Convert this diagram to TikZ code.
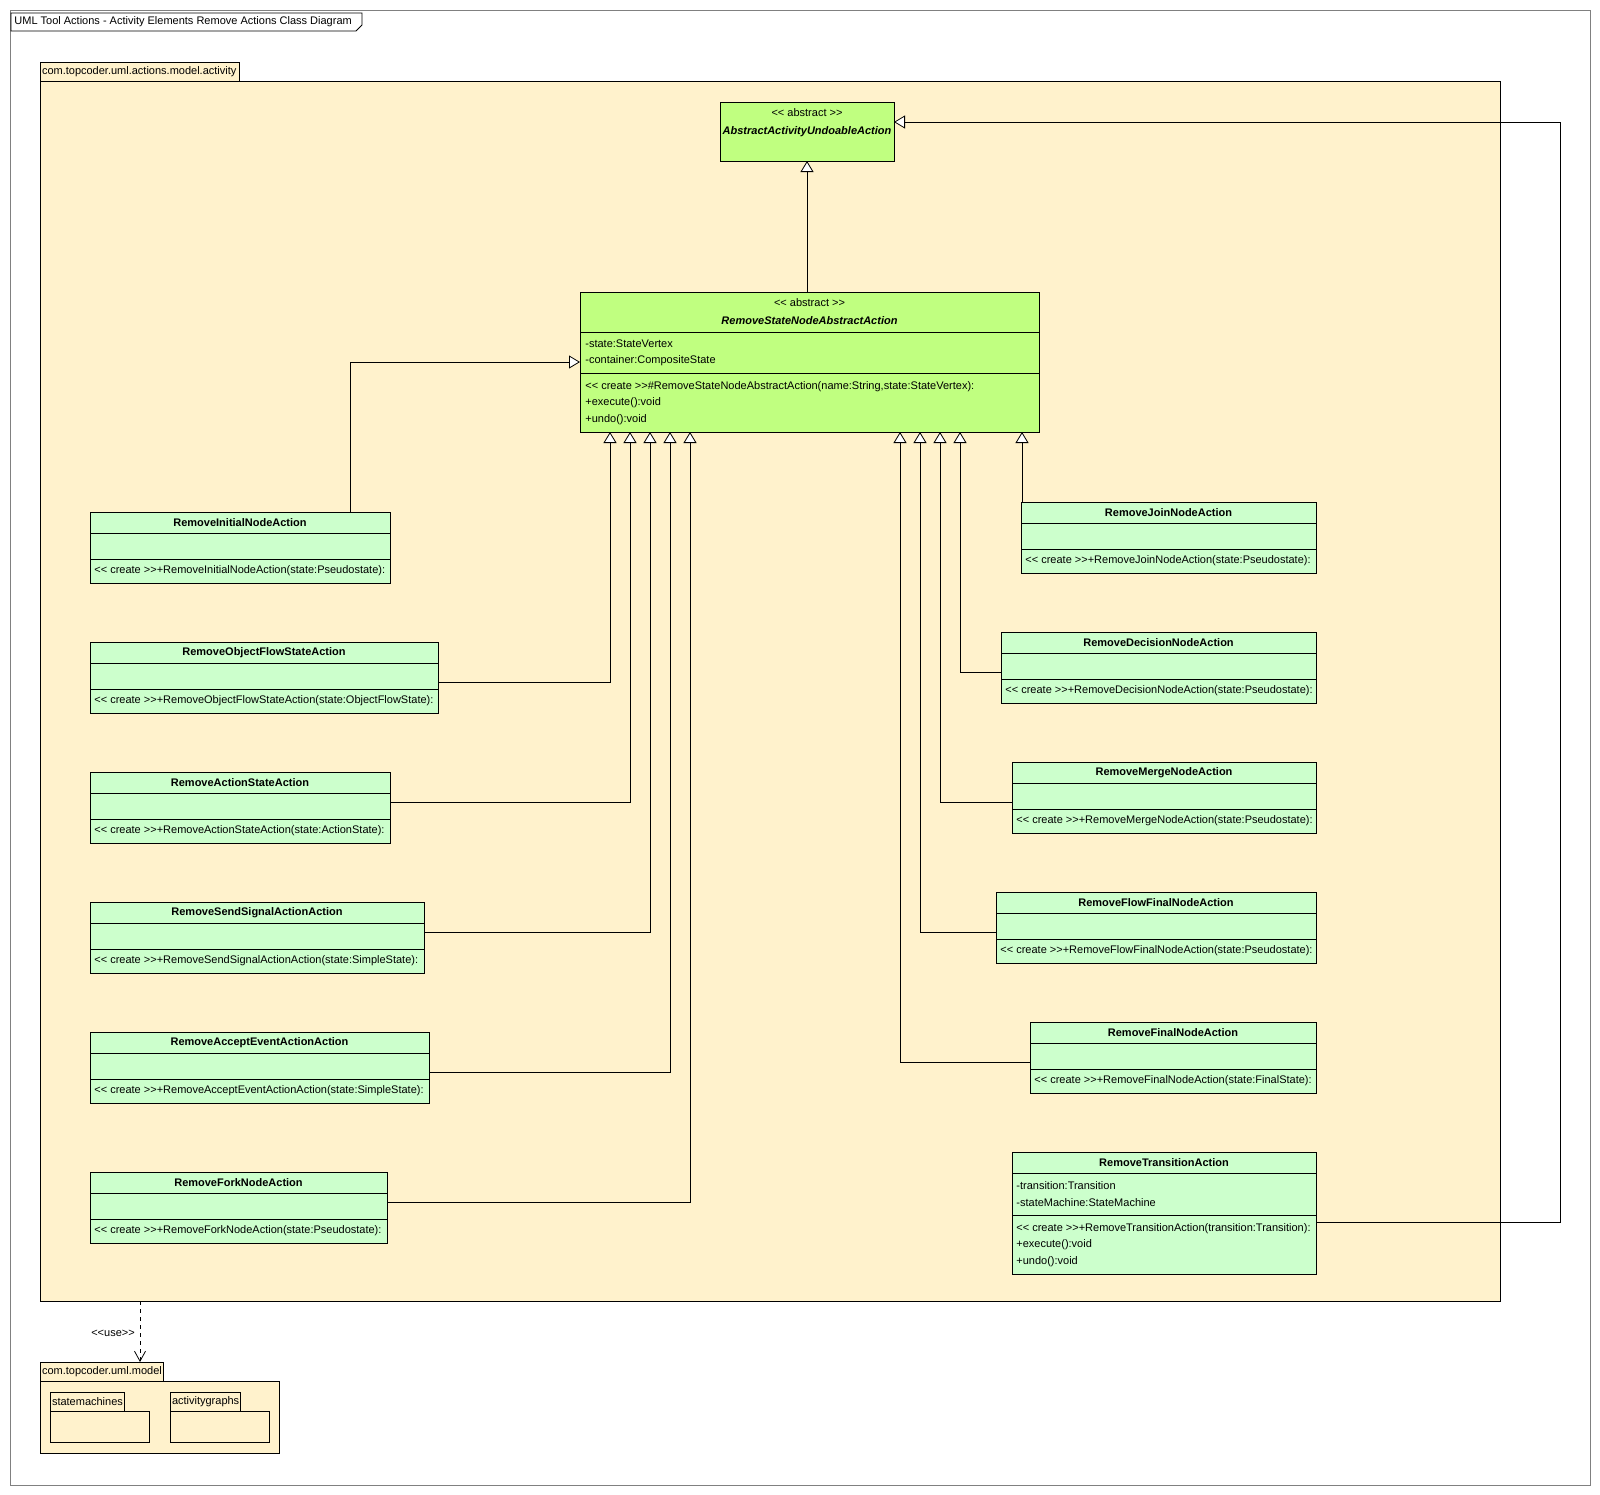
\documentclass[tikz,border=0pt]{standalone}
\usepackage{fontspec}
\setmainfont{Liberation Sans}
\usetikzlibrary{arrows.meta}

\definecolor{pkgfill}{RGB}{255,242,204}
\definecolor{absfill}{RGB}{192,255,128}
\definecolor{clsfill}{RGB}{204,255,204}
\definecolor{framegray}{RGB}{128,128,128}

\newcommand{\stereoL}{<{}<}
\newcommand{\stereoR}{>{}>}

\tikzset{
  box/.style={draw, anchor=north west, inner sep=0pt, outer sep=0pt},
  cls/.style={box, fill=clsfill},
  abscls/.style={box, fill=absfill},
  pkgbody/.style={box, fill=pkgfill},
  pkgtab/.style={draw, fill=pkgfill, anchor=north west, inner xsep=2pt, inner ysep=0pt, outer sep=0pt, minimum height=19},
  cname/.style={inner sep=0pt, font=\fontsize{11}{13}\selectfont\bfseries},
  aname/.style={inner sep=0pt, font=\fontsize{11}{13}\selectfont\bfseries\itshape},
  member/.style={anchor=west, inner sep=0pt},
  inh/.style={-{Triangle[length=11pt,width=13pt,fill=white]}},
  dep/.style={-{Straight Barb[length=10pt,width=11pt]}, dash pattern=on 4pt off 4pt},
}

% id, x1, y1, x2, name, constructor
\newcommand{\smallclass}[6]{%
  \node[cls, minimum width=#4-#2, minimum height=71] (#1) at (#2,#3) {};
  \draw ([yshift=-21pt]#1.north west) -- ([yshift=-21pt]#1.north east);
  \draw ([yshift=-47pt]#1.north west) -- ([yshift=-47pt]#1.north east);
  \node[cname] (#1-name) at ([yshift=-11pt]#1.north) {#5};
  \node[member] (#1-op) at ([shift={(4pt,-59pt)}]#1.north west) {\stereoL{} create \stereoR+#6};
}

\begin{document}
\begin{tikzpicture}[x=1pt, y=-1pt, line width=0.8pt, font=\fontsize{11}{13}\selectfont]
\useasboundingbox (0,0) rectangle (1600,1494);
\draw[framegray, line width=1pt] (10,10) rectangle (1590,1485);
\draw[fill=white] (11,13) -- (362,13) -- (362,25) -- (356,31) -- (11,31) -- cycle;
\node[member] (title) at (14,22) {UML Tool Actions - Activity Elements Remove Actions Class Diagram};

\node[pkgbody, minimum width=1460, minimum height=1220] (activity) at (40,81) {};
\node[pkgtab] (activity-tab) at (40,62) {\makebox[195pt][l]{com.topcoder.uml.actions.model.activity}};

\node[abscls, minimum width=174, minimum height=59] (abs) at (720,102) {};
\node (abs-st) at (807,113) {\stereoL{} abstract \stereoR};
\node[aname] (abs-name) at (807,132) {AbstractActivityUndoableAction};

\node[abscls, minimum width=459, minimum height=140] (rsn) at (580,292) {};
\draw (580,332) -- (1039,332);
\draw (580,373) -- (1039,373);
\node (rsn-st) at (809.5,303) {\stereoL{} abstract \stereoR};
\node[aname] (rsn-name) at (809.5,321) {RemoveStateNodeAbstractAction};
\node[member] (rsn-a1) at (585,344) {-state:StateVertex};
\node[member] (rsn-a2) at (585,361) {-container:CompositeState};
\node[member] (rsn-o1) at (585,387) {\stereoL{} create \stereoR\#RemoveStateNodeAbstractAction(name:String,state:StateVertex):};
\node[member] (rsn-o2) at (585,403) {+execute():void};
\node[member] (rsn-o3) at (585,420) {+undo():void};

\smallclass{initial}{90}{512}{390}{RemoveInitialNodeAction}{RemoveInitialNodeAction(state:Pseudostate):}
\smallclass{objflow}{90}{642}{438}{RemoveObjectFlowStateAction}{RemoveObjectFlowStateAction(state:ObjectFlowState):}
\smallclass{actstate}{90}{772}{390}{RemoveActionStateAction}{RemoveActionStateAction(state:ActionState):}
\smallclass{sendsig}{90}{902}{424}{RemoveSendSignalActionAction}{RemoveSendSignalActionAction(state:SimpleState):}
\smallclass{accept}{90}{1032}{429}{RemoveAcceptEventActionAction}{RemoveAcceptEventActionAction(state:SimpleState):}
\smallclass{fork}{90}{1172}{387}{RemoveForkNodeAction}{RemoveForkNodeAction(state:Pseudostate):}
\smallclass{join}{1021}{502}{1316}{RemoveJoinNodeAction}{RemoveJoinNodeAction(state:Pseudostate):}
\smallclass{decision}{1001}{632}{1316}{RemoveDecisionNodeAction}{RemoveDecisionNodeAction(state:Pseudostate):}
\smallclass{merge}{1012}{762}{1316}{RemoveMergeNodeAction}{RemoveMergeNodeAction(state:Pseudostate):}
\smallclass{flowfinal}{996}{892}{1316}{RemoveFlowFinalNodeAction}{RemoveFlowFinalNodeAction(state:Pseudostate):}
\smallclass{final}{1030}{1022}{1316}{RemoveFinalNodeAction}{RemoveFinalNodeAction(state:FinalState):}

\node[cls, minimum width=304, minimum height=122] (trans) at (1012,1152) {};
\draw (1012,1173) -- (1316,1173);
\draw (1012,1215) -- (1316,1215);
\node[cname] (trans-name) at (1164,1163) {RemoveTransitionAction};
\node[member] (trans-a1) at (1016,1186) {-transition:Transition};
\node[member] (trans-a2) at (1016,1203) {-stateMachine:StateMachine};
\node[member] (trans-o1) at (1016,1229) {\stereoL{} create \stereoR+RemoveTransitionAction(transition:Transition):};
\node[member] (trans-o2) at (1016,1245) {+execute():void};
\node[member] (trans-o3) at (1016,1262) {+undo():void};

\draw[inh] (rsn.north -| abs.south) -- (abs.south);
\draw[inh] ([xshift=110pt]initial.north) |- (rsn.west);
\draw[inh] (objflow.east |- 0,682) -| (rsn.south -| 610,0);
\draw[inh] (actstate.east |- 0,802) -| (rsn.south -| 630,0);
\draw[inh] (sendsig.east |- 0,932) -| (rsn.south -| 650,0);
\draw[inh] (accept.east |- 0,1072) -| (rsn.south -| 670,0);
\draw[inh] (fork.east |- 0,1202) -| (rsn.south -| 690,0);
\draw[inh] (join.north -| 1022,0) -- (rsn.south -| 1022,0);
\draw[inh] (decision.west |- 0,672) -| (rsn.south -| 960,0);
\draw[inh] (merge.west |- 0,802) -| (rsn.south -| 940,0);
\draw[inh] (flowfinal.west |- 0,932) -| (rsn.south -| 920,0);
\draw[inh] (final.west |- 0,1062) -| (rsn.south -| 900,0);
\draw[inh] (trans.east |- 0,1222) -- (1560,1222) |- (abs.east |- 0,122);

\node[pkgbody, minimum width=239, minimum height=72] (model) at (40,1381) {};
\node[pkgtab] (model-tab) at (40,1362) {\makebox[119pt][l]{com.topcoder.uml.model}};
\node[pkgbody, minimum width=99, minimum height=31] (statem) at (50,1411) {};
\node[pkgtab] (statem-tab) at (50,1392) {\makebox[70pt][l]{statemachines}};
\node[pkgbody, minimum width=99, minimum height=31] (actg) at (170,1411) {};
\node[pkgtab] (actg-tab) at (170,1392) {\makebox[66pt][l]{activitygraphs}};

\draw[dep] (activity.south -| 140,0) -- (model-tab.north -| 140,0);
\node (use) at (113,1333) {\stereoL use\stereoR};
\end{tikzpicture}
\end{document}
